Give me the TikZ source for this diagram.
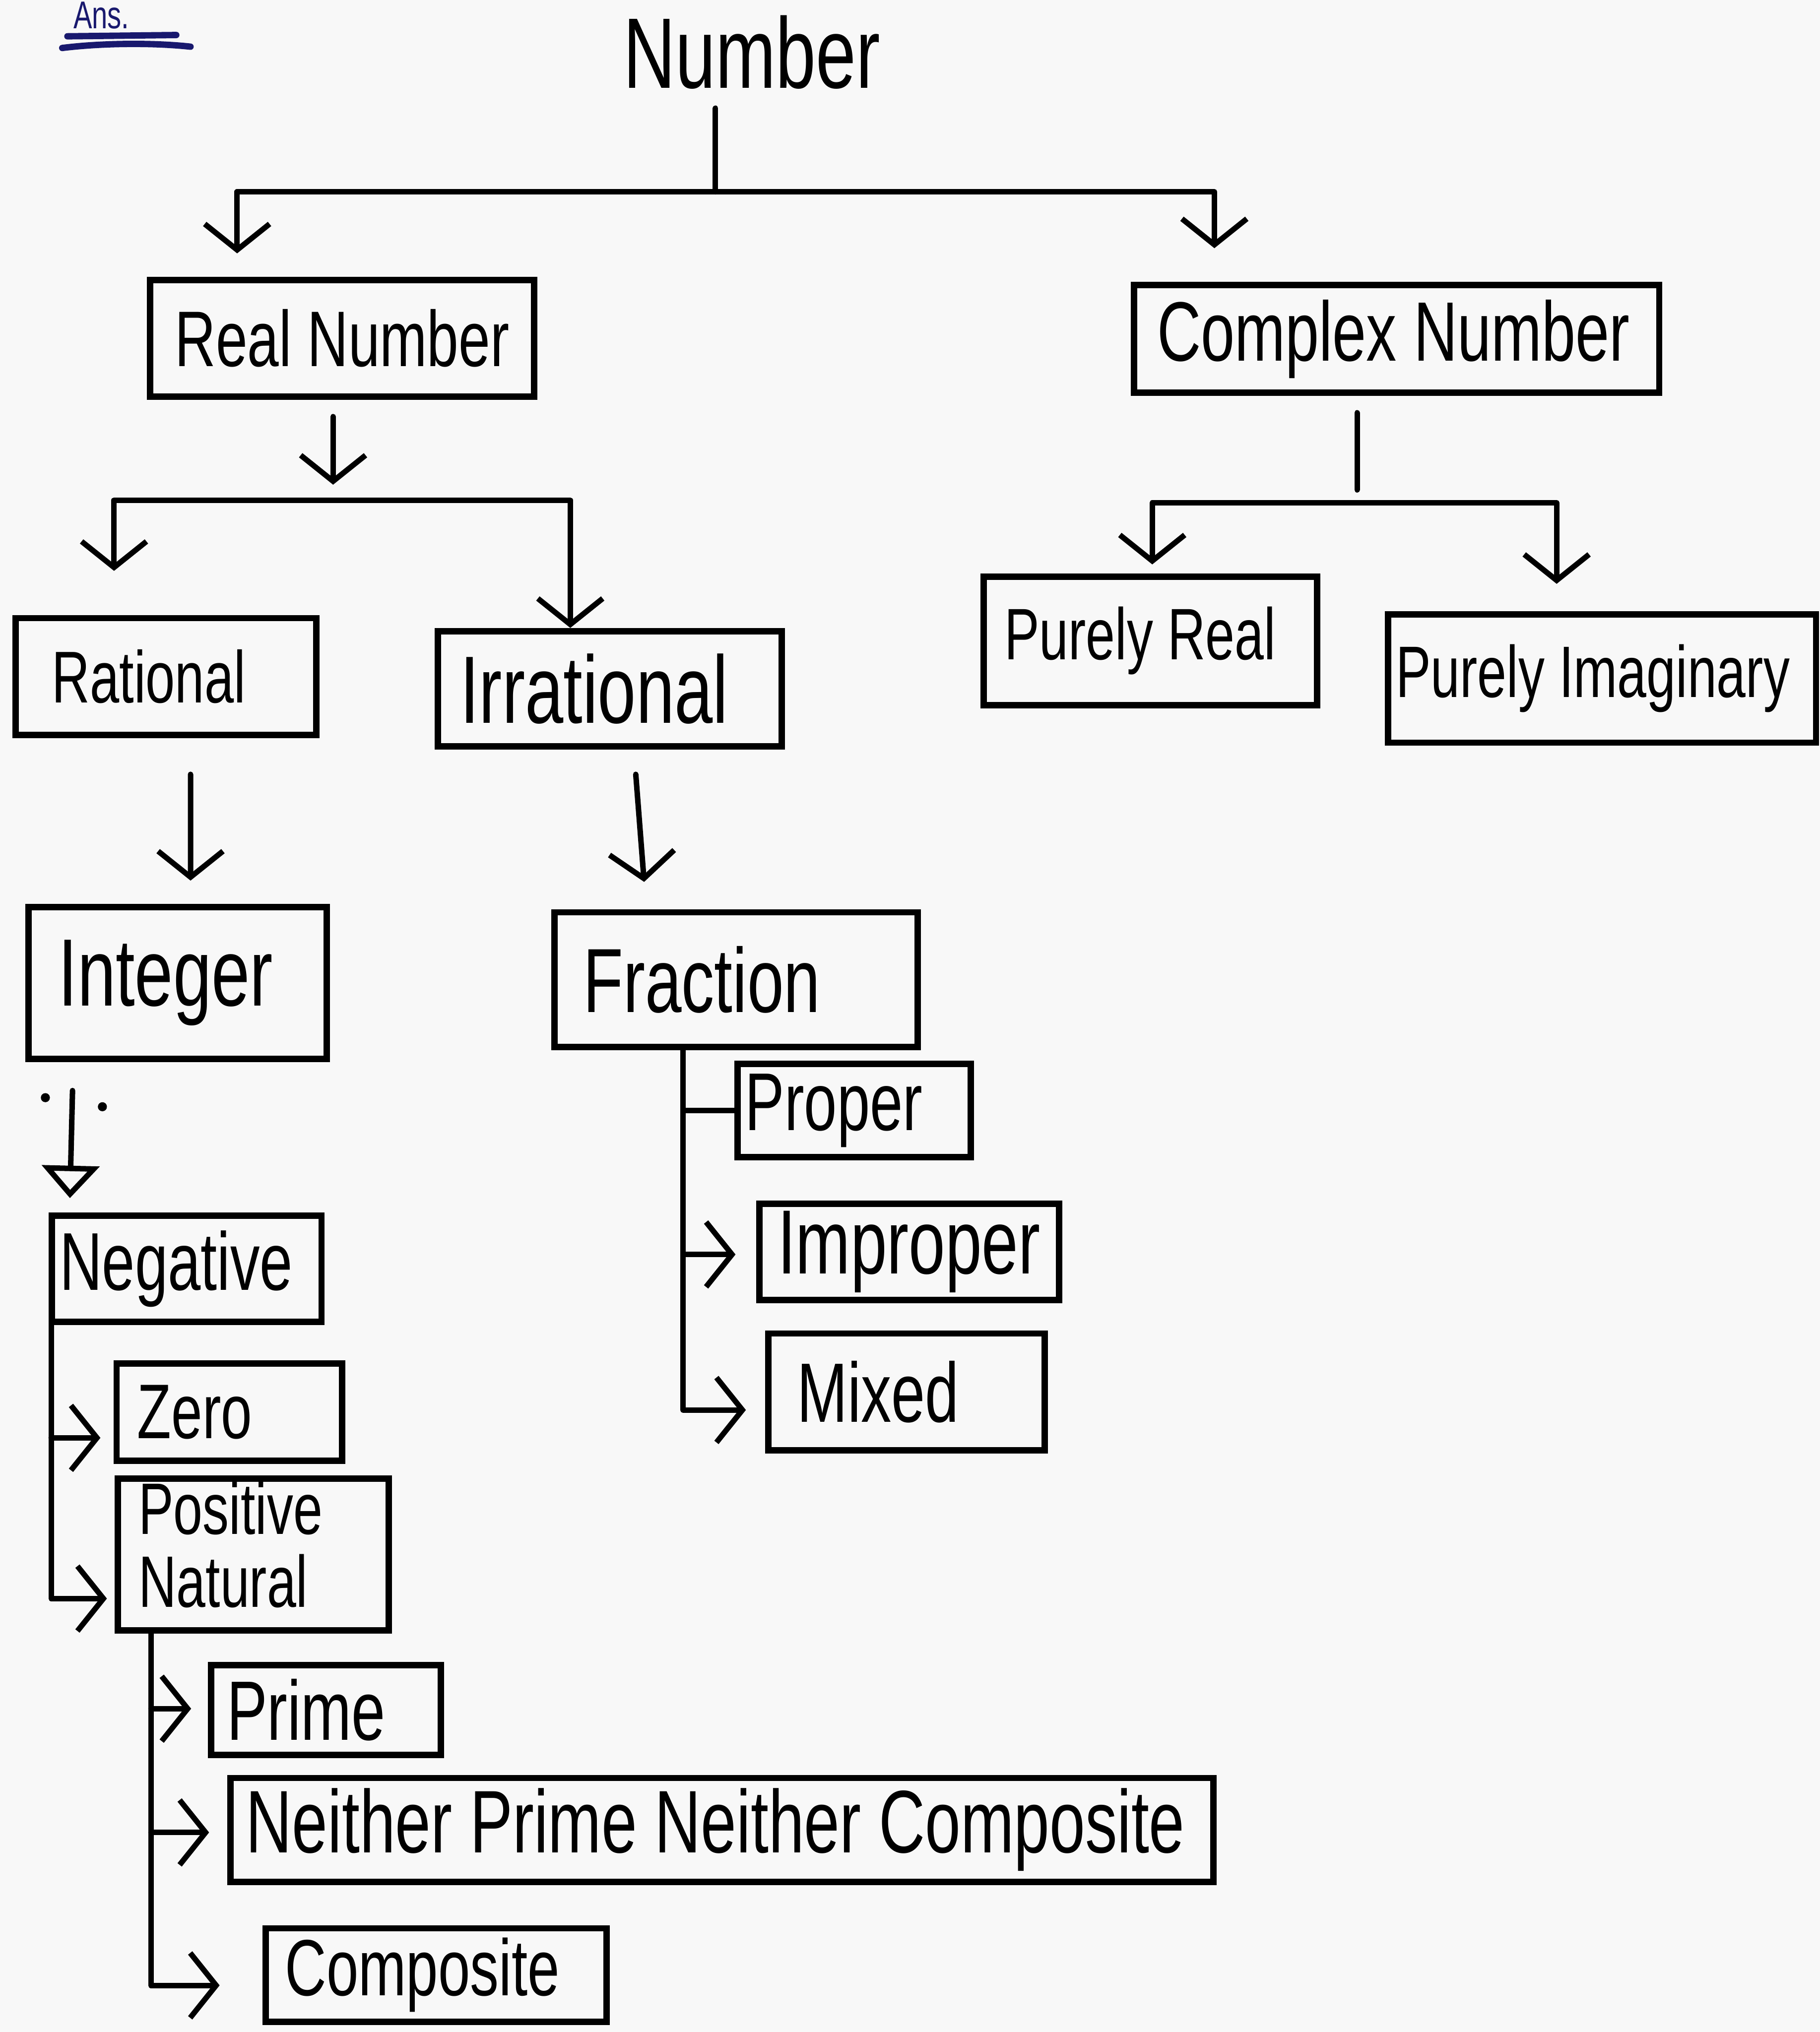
\documentclass[tikz,border=0pt]{standalone}
\usepackage{fontspec}
\setmainfont{Liberation Sans}[FakeStretch=0.72]
\usetikzlibrary{arrows.meta}
\newcommand\myfs[1]{\fontsize{#1}{#1}\selectfont}
\newcommand\lb[2]{\makebox[#1][l]{#2}}
\definecolor{inkblue}{RGB}{25,25,110}
\definecolor{paper}{RGB}{248,248,248}
\begin{document}
\begin{tikzpicture}[x=0.01cm,y=-0.01cm,
 bx/.style={draw, line width=1.4pt, inner ysep=0pt, anchor=center},
 ln/.style={line width=1.2pt, line cap=round, line join=round},
 ar/.style={ln, -{Straight Barb[length=0.2cm,width=0.5cm]}},
 tri/.style={ln, -{Triangle[open,length=0.25cm,width=0.44cm]}},
 ul/.style={inkblue, line width=1.4pt, line cap=round},
]
\fill[paper] (0,0) rectangle (1404,1568);
\useasboundingbox (0,0) rectangle (1404,1568);

% header fragment
\node[anchor=base west, inner sep=0pt, text=inkblue, font=\myfs{8.5}] (ans) at (56,22) {Ans.};
\coordinate (u1a) at (52,28); \coordinate (u1b) at (136,27);
\coordinate (u2a) at (48,37); \coordinate (u2b) at (147,36);
\draw[ul] (u1a) -- (u1b);
\draw[ul] (u2a) .. controls (80,33) and (120,33) .. (u2b);

% nodes
\node[anchor=base, inner sep=0pt, font=\myfs{22}] (num) at (580,68) {Number};

\node[bx, minimum width=2.96cm, minimum height=0.90cm, inner xsep=0.19cm, font=\myfs{17.3}] (real) at (264,261) {\lb{2.58cm}{Real Number}};
\node[bx, minimum width=4.05cm, minimum height=0.83cm, inner xsep=0.18cm, font=\myfs{18.5}] (complex) at (1077.5,261.5) {\lb{3.69cm}{Complex Number}};

\node[bx, minimum width=2.32cm, minimum height=0.90cm, inner xsep=0.28cm, font=\myfs{16.1}] (rational) at (128,522) {\lb{1.76cm}{Rational}};
\node[bx, minimum width=2.65cm, minimum height=0.89cm, inner xsep=0.17cm, font=\myfs{21}] (irrational) at (470.5,531.5) {\lb{2.31cm}{Irrational}};
\node[bx, minimum width=2.57cm, minimum height=0.99cm, inner xsep=0.16cm, font=\myfs{16}] (preal) at (887.5,494.5) {\lb{2.25cm}{Purely Real}};
\node[bx, minimum width=3.30cm, minimum height=0.99cm, inner xsep=0.06cm, font=\myfs{16}] (pimag) at (1236,523.5) {\lb{3.18cm}{Purely Imaginary}};

\node[bx, minimum width=2.30cm, minimum height=1.17cm, inner xsep=0.23cm, font=\myfs{21}] (integer) at (137,758.5) {\lb{1.84cm}{Integer}};
\node[bx, minimum width=2.80cm, minimum height=1.04cm, inner xsep=0.22cm, font=\myfs{20}] (fraction) at (568,756) {\lb{2.36cm}{Fraction}};

\node[bx, minimum width=2.08cm, minimum height=0.82cm, inner xsep=0.06cm, font=\myfs{18}] (negative) at (144,979) {\lb{1.96cm}{Negative}};
\node[bx, minimum width=1.74cm, minimum height=0.75cm, inner xsep=0.16cm, font=\myfs{17}] (zero) at (177,1089.5) {\lb{1.42cm}{Zero}};
\node[bx, minimum width=2.09cm, minimum height=1.17cm, inner xsep=0.16cm, font=\fontsize{16}{15}\selectfont] (posnat) at (195.5,1199.5) {\lb{1.77cm}{\begin{tabular}{@{}l@{}}Positive\\Natural\end{tabular}}};

\node[bx, minimum width=1.80cm, minimum height=0.72cm, inner xsep=0.06cm, font=\myfs{18}] (proper) at (659,857) {\lb{1.68cm}{Proper}};
\node[bx, minimum width=2.31cm, minimum height=0.74cm, inner xsep=0.14cm, font=\myfs{20}] (improper) at (701.5,966) {\lb{2.03cm}{Improper}};
\node[bx, minimum width=2.13cm, minimum height=0.90cm, inner xsep=0.22cm, font=\myfs{18.5}] (mixed) at (699.5,1074) {\lb{1.69cm}{Mixed}};

\node[bx, minimum width=1.77cm, minimum height=0.69cm, inner xsep=0.12cm, font=\myfs{18.5}] (prime) at (251.5,1319.5) {\lb{1.53cm}{Prime}};
\node[bx, minimum width=7.58cm, minimum height=0.80cm, inner xsep=0.12cm, font=\myfs{19.5}] (neither) at (557,1412) {\lb{7.34cm}{Neither Prime Neither Composite}};
\node[bx, minimum width=2.63cm, minimum height=0.72cm, inner xsep=0.15cm, font=\myfs{17.5}] (composite) at (336.5,1524) {\lb{2.33cm}{Composite}};

% junctions
\coordinate (j1) at (552,148);
\coordinate (j2) at (257,386);
\coordinate (j3) at (1047,388);

% Number branches
\draw[ln, shorten <=0.14cm] (num.south -| j1) -- (j1);
\draw[ar] (j1) -| ([xshift=-0.81cm,yshift=0.18cm]real.north);
\draw[ar] (j1) -| ([xshift=-1.405cm,yshift=0.26cm]complex.north);

% Real branches
\draw[ar, shorten <=0.13cm, shorten >=0.12cm] (real.south -| j2) -- (j2);
\draw[ar] (j2) -| ([xshift=-0.40cm,yshift=0.34cm]rational.north);
\draw[ar] (j2) -| ([xshift=-0.305cm]irrational.north);

% Complex branches
\draw[ln, shorten <=0.13cm, shorten >=0.1cm] (complex.south -| j3) -- (j3);
\draw[ar] (j3) -| ([xshift=0.015cm,yshift=0.07cm]preal.north);
\draw[ar] (j3) -| ([xshift=-0.35cm,yshift=0.21cm]pimag.north);

% second level
\draw[ar] ([xshift=0.19cm,yshift=-0.28cm]rational.south) -- ([xshift=0.10cm,yshift=0.18cm]integer.north);
\draw[ar] ([xshift=0.20cm,yshift=-0.19cm]irrational.south) -- ([xshift=-0.71cm,yshift=0.21cm]fraction.north);

% integer -> negative
\draw[tri] ([xshift=-0.81cm,yshift=-0.22cm]integer.south) -- ([xshift=-0.90cm,yshift=0.11cm]negative.north);
\fill (35,847) circle (0.035cm);
\fill (79,854) circle (0.035cm);

% negative column
\coordinate (zt) at ([xshift=-0.10cm,yshift=-0.20cm]zero.west);
\coordinate (pnt) at ([xshift=-0.06cm,yshift=-0.34cm]posnat.west);
\draw[ar] ([xshift=0.02cm]negative.south west) |- (pnt);
\draw[ar] ([xshift=0.02cm]negative.south west |- zt) -- (zt);

% positive natural column
\coordinate (pv) at ([xshift=0.28cm]posnat.south west);
\coordinate (pt) at ([xshift=-0.13cm,yshift=0.01cm]prime.west);
\coordinate (nt) at ([xshift=-0.14cm,yshift=-0.02cm]neither.west);
\coordinate (ct) at ([xshift=-0.33cm,yshift=-0.08cm]composite.west);
\draw[ar] (pv) |- (ct);
\draw[ar] (pv |- pt) -- (pt);
\draw[ar] (pv |- nt) -- (nt);

% fraction column
\coordinate (fv) at ([xshift=-0.41cm]fraction.south);
\coordinate (it) at ([xshift=-0.16cm,yshift=-0.02cm]improper.west);
\coordinate (mt) at ([xshift=-0.15cm,yshift=-0.14cm]mixed.west);
\draw[ar] (fv) |- (mt);
\draw[ln] (fv |- proper.west) -- (proper.west);
\draw[ar] (fv |- it) -- (it);
\end{tikzpicture}
\end{document}
